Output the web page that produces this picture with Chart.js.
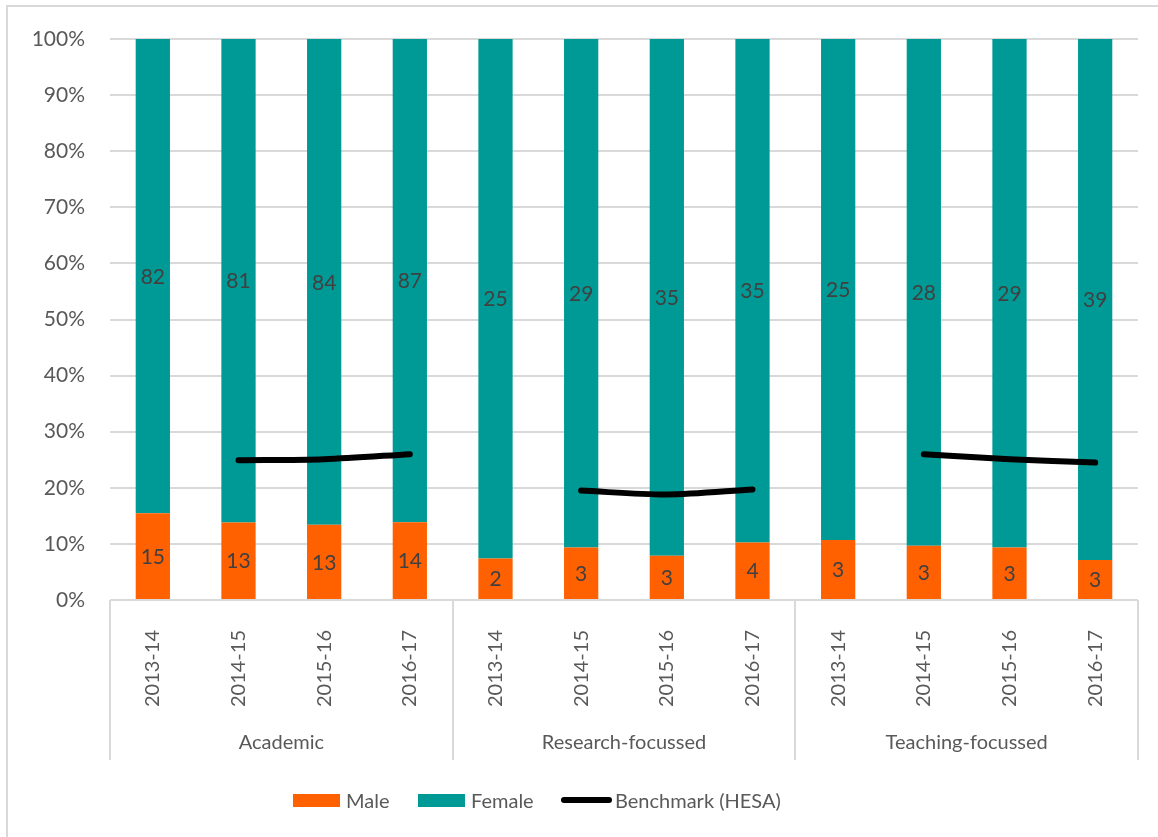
<!DOCTYPE html>
<html>
<head>
<meta charset="utf-8">
<script src="https://cdn.jsdelivr.net/npm/chart.js@4.4.1/dist/chart.umd.min.js"></script>
<style>
  html,body{margin:0;padding:0;background:#fff;}
  #wrap{position:relative;width:1158px;height:837px;overflow:hidden;}
  #frame{position:absolute;left:6px;top:5px;width:1160px;height:840px;border:2px solid #d9d9d9;box-sizing:border-box;}
  #chart{position:absolute;left:0;top:0;}
  #legend{position:absolute;left:0;top:786px;width:1158px;height:28px;
    font-family:Lato,"Open Sans",sans-serif;font-size:20px;color:#595959;}
  #legend .it{position:absolute;top:0;display:flex;align-items:center;height:28px;white-space:nowrap;}
  #legend .sw{width:47px;height:13px;margin-right:6px;}
  #legend .ln{width:51px;height:6px;border-radius:3px;background:#000;margin-right:3px;}
</style>
</head>
<body>
<div id="wrap">
  <div id="frame"></div>
  <canvas id="chart" width="1158" height="837"></canvas>
  <div id="legend">
    <div class="it" style="left:293px"><span class="sw" style="background:#ff6100"></span>Male</div>
    <div class="it" style="left:418px"><span class="sw" style="background:#009a96"></span>Female</div>
    <div class="it" style="left:561px"><span class="ln"></span>Benchmark (HESA)</div>
  </div>
</div>
<script>
const years = ['2013-14','2014-15','2015-16','2016-17','2013-14','2014-15','2015-16','2016-17','2013-14','2014-15','2015-16','2016-17'];
const groups = ['Academic','Research-focussed','Teaching-focussed'];
const maleCounts = [15,13,13,14,2,3,3,4,3,3,3,3];
const femaleCounts = [82,81,84,87,25,29,35,35,25,28,29,39];
const benchmark = [null,24.9,25.1,26.0,null,19.5,18.8,19.7,null,26.0,25.1,24.5];

const malePct = maleCounts.map((m,i)=> m/(m+femaleCounts[i])*100);
const femalePct = femaleCounts.map((f,i)=> f/(maleCounts[i]+f)*100);

const FONT = 'Lato, "Open Sans", sans-serif';
const GREY = '#595959';
const LINEC = '#d9d9d9';

// counts written inside the bar segments
const labelPlugin = {
  id:'labels',
  afterDatasetsDraw(chart){
    const ctx = chart.ctx;
    ctx.save();
    ctx.font = '21px ' + FONT;
    ctx.fillStyle = '#404040';
    ctx.textAlign = 'center'; ctx.textBaseline = 'middle';
    [maleCounts, femaleCounts].forEach((counts, di)=>{
      chart.getDatasetMeta(di).data.forEach((el,i)=>{
        ctx.fillText(String(counts[i]), el.x, (el.y+el.base)/2 + 1);
      });
    });
    ctx.restore();
  }
};

// group separators, axis line and group names below the year ticks
const groupPlugin = {
  id:'groups',
  afterDraw(chart){
    const ctx = chart.ctx, x = chart.scales.x, area = chart.chartArea;
    const step = (x.getPixelForValue(1) - x.getPixelForValue(0));
    ctx.save();
    ctx.strokeStyle = LINEC; ctx.lineWidth = 2;
    ctx.beginPath();
    ctx.moveTo(area.left, area.bottom); ctx.lineTo(area.right, area.bottom);
    for(let g=0; g<=groups.length; g++){
      const px = Math.round(x.getPixelForValue(g*4) - step/2);
      ctx.moveTo(px, area.bottom); ctx.lineTo(px, area.bottom + 160);
    }
    ctx.stroke();
    ctx.font = '20px ' + FONT; ctx.fillStyle = GREY;
    ctx.textAlign = 'center'; ctx.textBaseline = 'middle';
    groups.forEach((g,i)=>{
      const cx = (x.getPixelForValue(i*4) + x.getPixelForValue(i*4+3))/2;
      ctx.fillText(g, cx, area.bottom + 143);
    });
    ctx.restore();
  }
};

new Chart(document.getElementById('chart'), {
  type:'bar',
  data:{
    labels: years,
    datasets:[
      {label:'Male', data: malePct, backgroundColor:'#ff6100', barPercentage:0.4, categoryPercentage:1, order:2},
      {label:'Female', data: femalePct, backgroundColor:'#009a96', barPercentage:0.4, categoryPercentage:1, order:2},
      {label:'Benchmark (HESA)', type:'line', data: benchmark, stack:'bench', borderColor:'#000', borderWidth:6,
       borderCapStyle:'round', borderJoinStyle:'round', pointRadius:0, tension:0.3, spanGaps:false, order:1}
    ]
  },
  options:{
    responsive:false, animation:false,
    layout:{padding:{top:39, right:20, left:0, bottom:0}},
    plugins:{legend:{display:false}, tooltip:{enabled:false}},
    scales:{
      x:{
        stacked:true,
        grid:{display:false, drawTicks:false},
        border:{display:false},
        ticks:{minRotation:90, maxRotation:90, padding:30, color:GREY, font:{family:FONT, size:20}, autoSkip:false},
        afterFit(s){ s.height = 237; }
      },
      y:{
        stacked:true, min:0, max:100,
        grid:{color:LINEC, lineWidth:2, drawTicks:false},
        border:{display:false},
        ticks:{stepSize:10, padding:25, color:GREY, font:{family:FONT, size:21}, callback:v=> v+'%'},
        afterFit(s){ s.width = 110; }
      }
    }
  },
  plugins:[labelPlugin, groupPlugin]
});
</script>
</body>
</html>
